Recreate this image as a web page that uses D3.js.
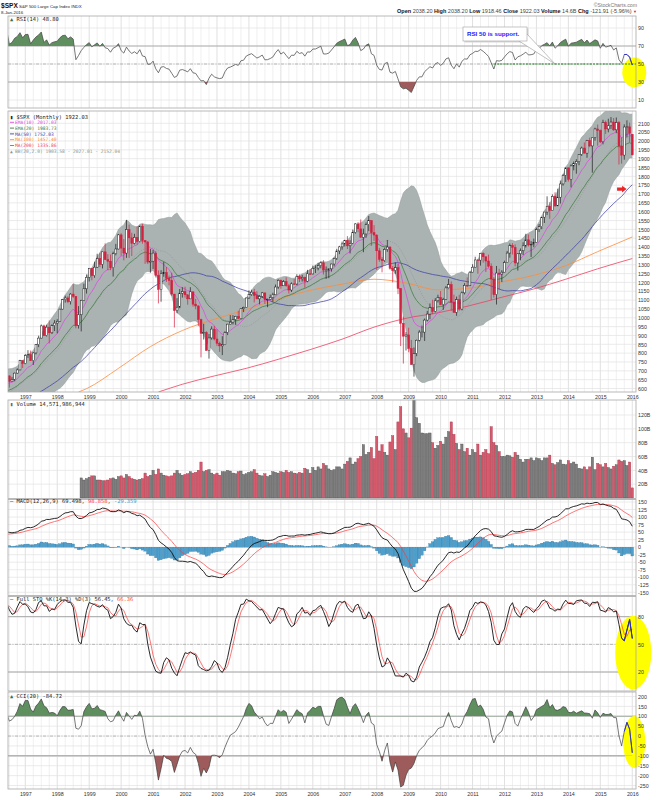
<!DOCTYPE html>
<html><head><meta charset="utf-8"><title>$SPX monthly</title>
<script src="https://cdn.jsdelivr.net/npm/d3@7/dist/d3.min.js"></script>
<style>
html,body{margin:0;padding:0;background:#fff;}
svg{display:block;}
.ax text{font-family:"Liberation Sans",Arial,sans-serif;font-size:5.3px;fill:#333;}
.ttl{font-family:"DejaVu Sans Mono",monospace;font-size:5.4px;fill:#222;}
.lg{font-family:"DejaVu Sans Mono",monospace;font-size:4.6px;}
</style></head><body>
<svg id="chart" width="661" height="800"></svg>
<script>
// ---------------- DATA (monthly, first bar = Jan 1993) ----------------
const firstYear = 1993;
const opens = [
 436,439,443,452,440,450,451,448,464,459,468,462,
 466,482,467,446,451,457,444,458,475,463,472,454,
 459,470,487,501,515,533,545,562,562,584,582,605,
 616,636,640,646,654,669,671,640,652,687,705,757,
 741,786,791,757,801,848,885,954,899,947,915,955,
 970,980,1049,1102,1112,1091,1134,1121,957,1017,1099,1164,
 1229,1280,1238,1286,1335,1302,1373,1329,1320,1283,1363,1389,
 1469,1394,1366,1499,1452,1421,1455,1431,1518,1437,1429,1315,
 1320,1366,1240,1160,1249,1256,1224,1211,1134,1041,1060,1139,
 1148,1130,1107,1147,1077,1067,990,912,916,815,886,936,
 880,856,841,848,917,964,975,990,1008,996,1051,1058,
 1112,1131,1145,1126,1107,1121,1141,1102,1104,1115,1130,1174,
 1212,1181,1204,1181,1157,1192,1191,1234,1220,1229,1207,1249,
 1248,1280,1281,1295,1311,1270,1270,1277,1304,1336,1378,1401,
 1418,1438,1407,1421,1482,1531,1503,1455,1474,1527,1549,1481,
 1468,1379,1331,1323,1386,1400,1280,1267,1283,1166,969,896,
 903,826,735,798,873,919,919,987,1021,1057,1036,1096,
 1115,1074,1104,1169,1187,1089,1031,1102,1049,1141,1183,1181,
 1258,1286,1327,1326,1364,1345,1321,1292,1219,1131,1253,1247,
 1258,1312,1366,1408,1398,1310,1362,1379,1407,1441,1412,1416,
 1426,1498,1515,1569,1598,1631,1606,1686,1633,1682,1757,1806,
 1848,1783,1859,1872,1884,1924,1960,1931,2003,1972,2018,2068,
 2059,1995,2105,2068,2086,2107,2063,2104,1972,1920,2079,2080,
 2038];
const highs = [
 442,450,456,452,454,455,452,464,464,470,469,471,
 482,482,471,453,458,462,459,477,477,474,474,466,
 473,489,503,515,535,552,565,565,587,588,610,622,
 638,665,656,658,680,674,675,666,690,714,762,761,
 795,817,815,805,851,899,962,961,960,985,963,987,
 992,1051,1106,1125,1122,1139,1190,1121,1066,1102,1193,1245,
 1282,1283,1317,1362,1368,1373,1421,1360,1358,1374,1418,1474,
 1478,1445,1553,1527,1481,1475,1518,1521,1531,1438,1433,1389,
 1384,1377,1268,1269,1316,1287,1239,1255,1135,1111,1163,1173,
 1176,1131,1173,1147,1107,1070,995,966,924,908,952,954,
 935,865,896,924,966,1015,1015,1011,1040,1054,1063,1112,
 1155,1159,1163,1151,1128,1146,1141,1109,1131,1142,1188,1218,
 1217,1213,1229,1192,1200,1219,1246,1245,1243,1233,1271,1276,
 1295,1297,1311,1318,1326,1290,1280,1306,1340,1390,1407,1431,
 1441,1462,1439,1499,1535,1541,1556,1504,1539,1576,1553,1524,
 1472,1396,1344,1397,1440,1404,1293,1313,1304,1168,1007,919,
 944,875,832,877,930,956,996,1039,1081,1102,1111,1130,
 1151,1113,1180,1220,1206,1131,1120,1130,1149,1196,1228,1263,
 1303,1345,1333,1367,1371,1346,1357,1308,1230,1293,1277,1269,
 1323,1378,1420,1422,1415,1364,1392,1427,1475,1471,1434,1448,
 1510,1530,1570,1598,1687,1654,1698,1710,1730,1776,1814,1849,
 1851,1868,1884,1897,1925,1968,1991,2006,2019,2019,2075,2093,
 2065,2120,2115,2126,2135,2130,2133,2113,2021,2094,2117,2104,
 2038];
const lows = [
 427,430,440,432,436,441,438,445,451,457,454,460,
 464,464,436,435,442,441,443,456,461,460,448,451,
 458,469,481,500,509,529,543,552,561,573,578,600,
 597,633,627,624,640,658,605,639,641,684,703,716,
 737,773,756,733,793,834,883,898,894,855,908,925,
 912,980,1047,1086,1083,1075,1112,940,939,923,1099,1137,
 1205,1212,1226,1282,1287,1279,1328,1269,1269,1233,1353,1387,
 1350,1325,1339,1339,1349,1415,1414,1427,1419,1305,1304,1255,
 1276,1228,1081,1091,1232,1203,1183,1124,945,1026,1054,1114,
 1114,1074,1107,1063,1048,953,776,877,815,769,876,872,
 840,807,789,847,902,963,962,960,991,995,1032,1056,
 1107,1124,1087,1105,1076,1113,1078,1060,1101,1090,1128,1163,
 1164,1180,1176,1137,1146,1188,1184,1202,1205,1169,1201,1245,
 1245,1253,1268,1280,1245,1220,1224,1261,1291,1327,1360,1385,
 1403,1389,1364,1416,1476,1484,1454,1371,1453,1490,1407,1435,
 1270,1317,1257,1315,1373,1272,1200,1248,1134,840,741,815,
 805,735,667,783,866,889,869,979,992,1020,1030,1086,
 1071,1045,1101,1166,1040,1028,1011,1040,1042,1132,1174,1181,
 1257,1286,1249,1295,1312,1259,1283,1101,1114,1075,1159,1202,
 1258,1312,1340,1358,1292,1267,1325,1355,1397,1403,1344,1399,
 1426,1485,1501,1536,1581,1560,1605,1627,1633,1646,1747,1768,
 1770,1738,1834,1815,1863,1915,1930,1905,1965,1821,2001,1973,
 1988,1981,2040,2049,2068,2057,2044,1867,1872,1894,2020,1993,
 1918];
const closes = [
 439,443,452,440,450,451,448,464,459,468,462,466,
 482,467,446,451,457,444,458,475,463,472,454,459,
 470,487,501,515,533,545,562,562,584,582,605,616,
 636,640,646,654,669,671,640,652,687,705,757,741,
 786,791,757,801,848,885,954,899,947,915,955,970,
 980,1049,1102,1112,1091,1134,1121,957,1017,1099,1164,1229,
 1280,1238,1286,1335,1302,1373,1329,1320,1283,1363,1389,1469,
 1394,1366,1499,1452,1421,1455,1431,1518,1437,1429,1315,1320,
 1366,1240,1160,1249,1256,1224,1211,1134,1041,1060,1139,1148,
 1130,1107,1147,1077,1067,990,912,916,815,886,936,880,
 856,841,848,917,964,975,990,1008,996,1051,1058,1112,
 1131,1145,1126,1107,1121,1141,1102,1104,1115,1130,1174,1212,
 1181,1204,1181,1157,1192,1191,1234,1220,1229,1207,1249,1248,
 1280,1281,1295,1311,1270,1270,1277,1304,1336,1378,1401,1418,
 1438,1407,1421,1482,1531,1503,1455,1474,1527,1549,1481,1468,
 1379,1331,1323,1386,1400,1280,1267,1283,1166,969,896,903,
 826,735,798,873,919,919,987,1021,1057,1036,1096,1115,
 1074,1104,1169,1187,1089,1031,1102,1049,1141,1183,1181,1258,
 1286,1327,1326,1364,1345,1321,1292,1219,1131,1253,1247,1258,
 1312,1366,1408,1398,1310,1362,1379,1407,1441,1412,1416,1426,
 1498,1515,1569,1598,1631,1606,1686,1633,1682,1757,1806,1848,
 1783,1859,1872,1884,1924,1960,1931,2003,1972,2018,2068,2059,
 1995,2105,2068,2086,2107,2063,2104,1972,1920,2079,2080,2044,
 1922];
// monthly volume in billions, starting Oct 1998
const volStart = "1998-10";
const volumes = [
 29,26,28,
 30,32,32,26,26,25,25,26,28,29,27,31,
 32,29,34,31,28,27,26,27,28,36,31,33,
 40,34,42,36,33,32,31,32,36,40,35,33,
 34,35,38,36,37,40,52,38,40,41,36,34,
 36,33,38,38,40,39,36,35,38,39,34,35,
 37,38,41,36,33,32,35,31,33,38,37,36,
 38,37,40,37,38,36,35,37,36,43,41,36,
 44,40,45,42,50,47,42,40,41,45,45,42,
 49,53,58,49,52,57,60,77,63,66,73,57,
 89,68,77,66,62,81,90,70,110,132,100,94,
 87,101,145,116,108,94,93,93,94,80,72,76,
 82,78,88,96,110,92,79,70,78,67,72,62,
 70,66,78,62,66,70,64,103,80,76,67,60,
 60,62,61,59,66,62,56,52,56,56,58,54,
 58,57,54,58,58,62,50,48,51,55,49,48,
 54,50,52,49,43,42,45,41,45,59,41,50,
 48,45,50,44,42,46,48,55,53,54,47,52,
 14.6];
// long moving averages
const ma100Pts = [["1998-09",580],["1998-12",599],["1999-12",714],["2000-12",837],["2001-12",928],["2002-12",992],["2003-12",1046],["2004-12",1107],["2005-12",1155],["2006-12",1190],["2007-12",1218],["2008-12",1197],["2009-12",1158],["2010-12",1168],["2011-12",1203],["2012-12",1240],["2013-12",1295],["2014-12",1374],["2016-01",1457]];
const ma200Pts = [["2001-03",580],["2001-12",624],["2002-12",671],["2003-12",714],["2004-12",765],["2005-12",820],["2006-12",879],["2007-12",947],["2008-12",997],["2009-12",1028],["2010-12",1069],["2011-12",1116],["2012-12",1163],["2013-12",1218],["2014-12",1277],["2016-01",1335]];
// tick labels
const yearLabels = [1997,1998,1999,2000,2001,2002,2003,2004,2005,2006,2007,2008,2009,2010,2011,2012,2013,2014,2015,2016];
const rsiTicks = [10,30,50,70,90];
const priceTicks = [600,650,700,750,800,850,900,950,1000,1050,1100,1150,1200,1250,1300,1350,1400,1450,1500,1550,1600,1650,1700,1750,1800,1850,1900,1950,2000,2050,2100];
const volTicks = [20,40,60,80,100,120];
const macdTicks = [-150,-125,-100,-75,-50,-25,0,25,50,75,100,125,150];
const stoTicks = [20,50,80];
const cciTicks = [-250,-200,-150,-100,-50,0,50,100,150,200];

// ---------------- helpers ----------------
const mIdx = s => { const [y,m] = s.split("-").map(Number); return (y-firstYear)*12 + (m-1); };
function smaArr(a,p){ return a.map((_,i)=>{ if(i<p-1) return null; let s=0; for(let j=i-p+1;j<=i;j++){ if(a[j]==null) return null; s+=a[j]; } return s/p; }); }
function emaArr(a,p){ const k=2/(p+1); let prev=null; return a.map(v=>{ if(v==null) return null; prev = prev==null? v : prev + k*(v-prev); return prev; }); }
function rsiArr(c,p){ const out=new Array(c.length).fill(null); let ag=0,al=0;
  for(let i=1;i<c.length;i++){ const d=c[i]-c[i-1], g=d>0?d:0, l=d<0?-d:0;
    if(i<=p){ ag+=g/p; al+=l/p; if(i===p) out[i]=al===0?100:100-100/(1+ag/al); }
    else { ag=(ag*(p-1)+g)/p; al=(al*(p-1)+l)/p; out[i]=al===0?100:100-100/(1+ag/al); } }
  return out; }

// ---------------- indicators ----------------
const ema10 = emaArr(closes,10), ema20 = emaArr(closes,20), ma50 = smaArr(closes,50);
const bbMid = smaArr(closes,20), bbU = [], bbL = [];
closes.forEach((c,i)=>{ if(i<19){ bbU.push(null); bbL.push(null); return; }
  const w = closes.slice(i-19,i+1), m = d3.mean(w), sd = Math.sqrt(d3.mean(w,v=>(v-m)*(v-m)));
  bbU.push(m+2*sd); bbL.push(m-2*sd); });
const rsi = rsiArr(closes,14);
const e12 = emaArr(closes,12), e26 = emaArr(closes,26);
const macd = closes.map((_,i)=>e12[i]-e26[i]);
const sig = emaArr(macd,9);
const hist = macd.map((m,i)=>m-sig[i]);
const fastK = closes.map((c,i)=>{ if(i<13) return null; const hh=d3.max(highs.slice(i-13,i+1)), ll=d3.min(lows.slice(i-13,i+1)); return hh===ll?50:(c-ll)/(hh-ll)*100; });
const stoK = smaArr(fastK,3), stoD = smaArr(stoK,3);
const tp = closes.map((c,i)=>(highs[i]+lows[i]+c)/3);
const cci = tp.map((t,i)=>{ if(i<19) return null; const w=tp.slice(i-19,i+1), m=d3.mean(w), md=d3.mean(w,v=>Math.abs(v-m)); return (t-m)/(0.015*md); });

// ---------------- layout ----------------
const svg = d3.select("#chart");
const defs = svg.append("defs");
const Lgrid = svg.append("g"), Lunder = svg.append("g"), Ldata = svg.append("g"),
      Lborder = svg.append("g"), Laxis = svg.append("g"), Lover = svg.append("g");
const X0 = 8, X1 = 636;
const x = d3.scaleLinear().domain([41.5, 277.4]).range([X0, X1]);
const first = mIdx("1996-07"), last = closes.length - 1;
const vis = d3.range(first, last + 1);
const panels = { rsi:{top:16,bot:108}, price:{top:111,bot:392}, vol:{top:400,bot:498.5},
  macd:{top:499.5,bot:595.5}, sto:{top:596.5,bot:691}, cci:{top:692,bot:789} };
const yR = d3.scaleLinear().domain([10,90]).range([100,28]);
const yP = d3.scaleLinear().domain([600,2100]).range([388.5,123.3]);
const yV = d3.scaleLinear().domain([0,120]).range([498,415]);
const yM = d3.scaleLinear().domain([-150,150]).range([592.3,502]);
const yS = d3.scaleLinear().domain([20,80]).range([672,616.7]);
const yC = d3.scaleLinear().domain([-250,200]).range([785.5,696.5]);

function panel(key, y, ticks, fmt, grid){
  const p = panels[key];
  defs.append("clipPath").attr("id","clip-"+key).append("rect")
    .attr("x",X0).attr("y",p.top).attr("width",X1-X0).attr("height",p.bot-p.top);
  const gg = Lgrid.append("g").attr("clip-path",`url(#clip-${key})`);
  gg.selectAll("line.v").data(vis.filter(i=>i%3===0)).join("line").attr("class","v")
    .attr("x1",i=>x(i)).attr("x2",i=>x(i)).attr("y1",p.top).attr("y2",p.bot)
    .attr("stroke",i=>i%12===0?"#d2d2d2":"#e9e9e9").attr("stroke-width",0.7);
  gg.selectAll("line.h").data(grid||ticks).join("line").attr("class","h")
    .attr("x1",X0).attr("x2",X1).attr("y1",d=>y(d)).attr("y2",d=>y(d))
    .attr("stroke","#e3e3e3").attr("stroke-width",0.7);
  const plot = Ldata.append("g").attr("clip-path",`url(#clip-${key})`);
  Lborder.append("rect").attr("x",X0).attr("y",p.top).attr("width",X1-X0).attr("height",p.bot-p.top)
    .attr("fill","none").attr("stroke","#a9a9a9").attr("stroke-width",0.8);
  const ax = Laxis.append("g").attr("class","ax").attr("transform","translate(638,0)")
    .call(d3.axisRight(y).tickValues(ticks).tickFormat(fmt).tickSize(0).tickPadding(0));
  ax.select(".domain").remove();
  return {plot, gg, p, key};
}
function hline(P, y, v, col, w, dash){
  P.gg.append("line").attr("x1",X0).attr("x2",X1).attr("y1",y(v)).attr("y2",y(v))
    .attr("stroke",col).attr("stroke-width",w).attr("stroke-dasharray",dash||null);
}
function drawLine(g, arr, y, col, w, from, to, dash){
  const idx = d3.range(from==null?first-1:from, (to==null?last:to)+1).filter(i=>arr[i]!=null);
  g.append("path").datum(idx).attr("d", d3.line().x(i=>x(i)).y(i=>y(arr[i])))
    .attr("fill","none").attr("stroke",col).attr("stroke-width",w).attr("stroke-dasharray",dash||null)
    .attr("stroke-linejoin","round");
}
function bandFill(P, arr, y, level, above, col){
  const id = "cl-"+P.key+(above?"hi":"lo");
  const p = P.p;
  defs.append("clipPath").attr("id",id).append("rect").attr("x",X0)
    .attr("y", above? p.top : y(level)).attr("width",X1-X0)
    .attr("height", above? y(level)-p.top : p.bot-y(level));
  const idx = d3.range(first-1,last+1).filter(i=>arr[i]!=null);
  P.plot.append("g").attr("clip-path",`url(#${id})`).append("path").datum(idx)
    .attr("d", d3.area().x(i=>x(i)).y0(y(level)).y1(i=>y(arr[i])))
    .attr("fill",col).attr("stroke","none");
}
function yearAxis(yPos){
  const ax = Laxis.append("g").attr("class","ax").attr("transform",`translate(0,${yPos})`)
    .call(d3.axisBottom(x).tickValues(yearLabels.map(v=>(v-firstYear)*12)).tickFormat(i=>firstYear+i/12).tickSize(0).tickPadding(0));
  ax.select(".domain").remove();
}
function title(xp, yp, parts, cls){
  const t = Laxis.append("text").attr("class",cls||"ttl").attr("x",xp).attr("y",yp);
  parts.forEach(([s,c,b])=>t.append("tspan").attr("fill",c).attr("font-weight",b?"bold":null).text(s));
  return t;
}
const upC = "#1e1e1e", dnC = "#d4203f";
const isUp = i => closes[i] >= closes[i-1];

// ---------------- RSI ----------------
const RS = panel("rsi", yR, rsiTicks, d=>d);
hline(RS, yR, 70, "#9e9e9e", 0.8); hline(RS, yR, 30, "#9e9e9e", 0.8);
hline(RS, yR, 50, "#9e9e9e", 0.7, "3,1.5,1,1.5");
bandFill(RS, rsi, yR, 70, true, "#5f8f5f");
bandFill(RS, rsi, yR, 30, false, "#9e5b5b");
drawLine(RS.plot, rsi, yR, "#4a4a4a", 0.75);
title(10, 21.4, [["▲ ","#3f6f3f"],["RSI(14) 48.80","#222"]]);

// ---------------- PRICE ----------------
const PR = panel("price", yP, priceTicks, d=>d);
const bbIdx = d3.range(first-1,last+1);
PR.plot.append("path").datum(bbIdx)
  .attr("d", d3.area().x(i=>x(i)).y0(i=>yP(bbL[i])).y1(i=>yP(bbU[i])))
  .attr("fill","#aab3b2").attr("stroke","none");
drawLine(PR.plot, bbU, yP, "#8e9a99", 0.5);
drawLine(PR.plot, bbL, yP, "#8e9a99", 0.5);
drawLine(PR.plot, bbMid, yP, "#8c8c8c", 0.55, null, null, "1,1.3");
PR.plot.append("path").datum(ma200Pts)
  .attr("d", d3.line().curve(d3.curveMonotoneX).x(d=>x(mIdx(d[0]))).y(d=>yP(d[1])))
  .attr("fill","none").attr("stroke","#ee3f5f").attr("stroke-width",0.8);
PR.plot.append("path").datum(ma100Pts)
  .attr("d", d3.line().curve(d3.curveMonotoneX).x(d=>x(mIdx(d[0]))).y(d=>yP(d[1])))
  .attr("fill","none").attr("stroke","#ff8a3a").attr("stroke-width",0.8);
drawLine(PR.plot, ma50, yP, "#3f3fa8", 0.75);
drawLine(PR.plot, ema20, yP, "#3f7b3f", 0.75);
drawLine(PR.plot, ema10, yP, "#dd48dd", 0.75);
const cg = PR.plot.append("g");
cg.selectAll("line").data(vis).join("line")
  .attr("x1",i=>x(i)).attr("x2",i=>x(i)).attr("y1",i=>yP(highs[i])).attr("y2",i=>yP(lows[i]))
  .attr("stroke",i=>isUp(i)?upC:dnC).attr("stroke-width",0.7);
cg.selectAll("rect").data(vis).join("rect")
  .attr("x",i=>x(i)-0.95).attr("width",1.9)
  .attr("y",i=>yP(Math.max(opens[i],closes[i])))
  .attr("height",i=>Math.max(0.6,Math.abs(yP(opens[i])-yP(closes[i]))))
  .attr("fill",i=>closes[i]<opens[i]?(isUp(i)?upC:dnC):"#fff")
  .attr("stroke",i=>isUp(i)?upC:dnC).attr("stroke-width",0.5);
title(10, 118.6, [["▮ ","#222"],["$SPX (Monthly) 1922.03","#222"]]);
const legend = [["EMA(10) 2017.03","#dd48dd"],["EMA(20) 1983.73","#3f7b3f"],["MA(50) 1752.03","#3f3fa8"],
  ["MA(100) 1457.40","#ff8a3a"],["MA(200) 1335.86","#ee3f5f"],["BB(20,2.0) 1903.58 - 2027.01 - 2152.04","#8a9797"]];
legend.forEach(([t,c],k)=>{
  const yy = 122.3 + k*5.8;
  if(k<5) Laxis.append("line").attr("x1",10).attr("x2",14).attr("y1",yy).attr("y2",yy).attr("stroke",c).attr("stroke-width",0.9);
  else Laxis.append("text").attr("class","lg").attr("x",10).attr("y",yy+1.6).attr("fill",c).text("▲");
  Laxis.append("text").attr("class","lg").attr("x",15).attr("y",yy+1.6).attr("fill",c).text(t);
});
yearAxis(395);

// ---------------- VOLUME ----------------
const VO = panel("vol", yV, volTicks, d=>d+"B");
const v0 = mIdx(volStart);
VO.plot.selectAll("rect").data(volumes.map((v,k)=>({i:v0+k, v}))).join("rect")
  .attr("x",d=>x(d.i)-1.15).attr("width",2.3).attr("y",d=>yV(d.v)).attr("height",d=>yV(0)-yV(d.v))
  .attr("fill",d=>isUp(d.i)?"#7e7e7e":"#d55a6c").attr("stroke",d=>isUp(d.i)?"#4e4e4e":"#a93048").attr("stroke-width",0.4);
title(10, 406, [["▮ ","#666"],["Volume 14,571,986,944","#222"]]);

// ---------------- MACD ----------------
const MC = panel("macd", yM, macdTicks, d=>String(d));
MC.plot.selectAll("rect").data(vis).join("rect")
  .attr("x",i=>x(i)-1.33).attr("width",2.66)
  .attr("y",i=>Math.min(yM(0),yM(hist[i]))).attr("height",i=>Math.abs(yM(hist[i])-yM(0)))
  .attr("fill","#4f9fcc").attr("stroke","#2e6f98").attr("stroke-width",0.25);
drawLine(MC.plot, sig, yM, "#ff3b3b", 0.7);
drawLine(MC.plot, macd, yM, "#111", 0.9);
title(10, 503.2, [["— ","#111"],["MACD(12,26,9) 69.498, ","#222"],["98.858","#ff3b3b"],[", ","#222"],["-29.359","#3a9ad0"]]);

// ---------------- STO ----------------
const ST = panel("sto", yS, stoTicks, d=>d);
hline(ST, yS, 80, "#9e9e9e", 0.9); hline(ST, yS, 20, "#9e9e9e", 0.9);
hline(ST, yS, 50, "#9e9e9e", 0.7, "3,1.5,1,1.5");
drawLine(ST.plot, stoD, yS, "#ff3b3b", 0.7);
drawLine(ST.plot, stoK, yS, "#111", 0.9);
title(10, 601, [["— ","#111"],["Full STO %K(14,3) %D(3) 56.45, ","#222"],["66.36","#ff3b3b"]]);

// ---------------- CCI ----------------
const CC = panel("cci", yC, cciTicks, d=>String(d));
hline(CC, yC, 100, "#c4c4c4", 1.6); hline(CC, yC, -100, "#c4c4c4", 1.6);
hline(CC, yC, 0, "#9e9e9e", 0.7, "3,1.5,1,1.5");
bandFill(CC, cci, yC, 100, true, "#5f8f5f");
bandFill(CC, cci, yC, -100, false, "#9e5b5b");
drawLine(CC.plot, cci, yC, "#3e3e3e", 0.7);
title(10, 698.4, [["▲ ","#3f6f3f"],["CCI(20) -84.72","#222"]]);
yearAxis(792);

// ---------------- header ----------------
const hf = "Liberation Sans, Arial, sans-serif";
svg.append("text").attr("x",1).attr("y",8).attr("font-family",hf).attr("font-weight","bold").attr("font-size",6.6).attr("fill","#111").text("$SPX");
svg.append("text").attr("x",19).attr("y",7.8).attr("font-family",hf).attr("font-size",4.4).attr("fill","#222").text("S&P 500 Large Cap Index  INDX");
svg.append("text").attr("x",1).attr("y",14).attr("font-family",hf).attr("font-size",4.4).attr("fill","#222").text("8-Jan-2016");
svg.append("text").attr("x",637).attr("y",6.5).attr("text-anchor","end").attr("font-family",hf).attr("font-size",5.2).attr("fill","#777").text("©StockCharts.com");
const info = svg.append("text").attr("x",637).attr("y",13.4).attr("text-anchor","end").attr("font-family",hf).attr("font-size",5.5).attr("fill","#333");
[["Open",1],[" 2038.20  ",0],["High",1],[" 2038.20  ",0],["Low",1],[" 1918.46  ",0],["Close",1],[" 1922.03  ",0],["Volume",1],[" 14.6B  ",0],["Chg",1],[" -121.91 (-5.96%) ",0]]
  .forEach(([s,b])=>info.append("tspan").attr("font-weight",b?"bold":null).attr("fill",b?"#111":"#444").text(s));
info.append("tspan").attr("fill","#d4203f").attr("font-size",4).text("▼");

// ---------------- annotations ----------------
// yellow ellipses (under data)
Lunder.append("ellipse").attr("cx",x(last)+2).attr("cy",yR(40.6)).attr("rx",12).attr("ry",15).attr("fill","#ffff00");
Lunder.append("ellipse").attr("cx",x(last)+1).attr("cy",yS(41)).attr("rx",18).attr("ry",37).attr("fill","#ffff00");
Lunder.append("ellipse").attr("cx",x(last)+2).attr("cy",yC(-30)).attr("rx",11).attr("ry",26).attr("fill","#ffff00");
// RSI 50 support line
Lover.append("line").attr("x1",x(mIdx("2011-09"))).attr("x2",X1).attr("y1",yR(50)).attr("y2",yR(50))
  .attr("stroke","#0a7a0a").attr("stroke-width",0.9).attr("stroke-dasharray","2,1.2");
// callout
const tipX = x(mIdx("2013-08")), tipY = yR(50);
Lover.append("rect").attr("x",464.5).attr("y",28.5).attr("width",64).attr("height",14).attr("fill","#d8d8d8");
Lover.append("path").attr("d",`M519,41 L${tipX},${tipY} L527,34`).attr("fill","#fff").attr("stroke","#999").attr("stroke-width",0.6);
Lover.append("rect").attr("x",463).attr("y",27).attr("width",64).attr("height",14).attr("fill","#fff").attr("stroke","#a0a0a0").attr("stroke-width",0.6);
Lover.append("text").attr("x",467).attr("y",36.3).attr("font-family",hf).attr("font-weight","bold").attr("font-size",6.2).attr("fill","#1b1bff").text("RSI 50 is support.");
// blue highlight strokes at the right end
drawLine(Lover, rsi, yR, "#2a2ad0", 0.9, last-3, last);
drawLine(Lover, stoK, yS, "#2a2ad0", 1.0, last-4, last);
drawLine(Lover, cci, yC, "#2a2ad0", 0.9, last-3, last);
// red arrow pointing at MA(50)
const axp = x(last)-5.7, ayp = yP(1728);
Lover.append("path").attr("d",`M${axp-9.5},${ayp-1.6} L${axp-4.5},${ayp-1.6} L${axp-4.5},${ayp-3.4} L${axp},${ayp} L${axp-4.5},${ayp+3.4} L${axp-4.5},${ayp+1.6} L${axp-9.5},${ayp+1.6} Z`)
  .attr("fill","#e8262a");
</script></body></html>
